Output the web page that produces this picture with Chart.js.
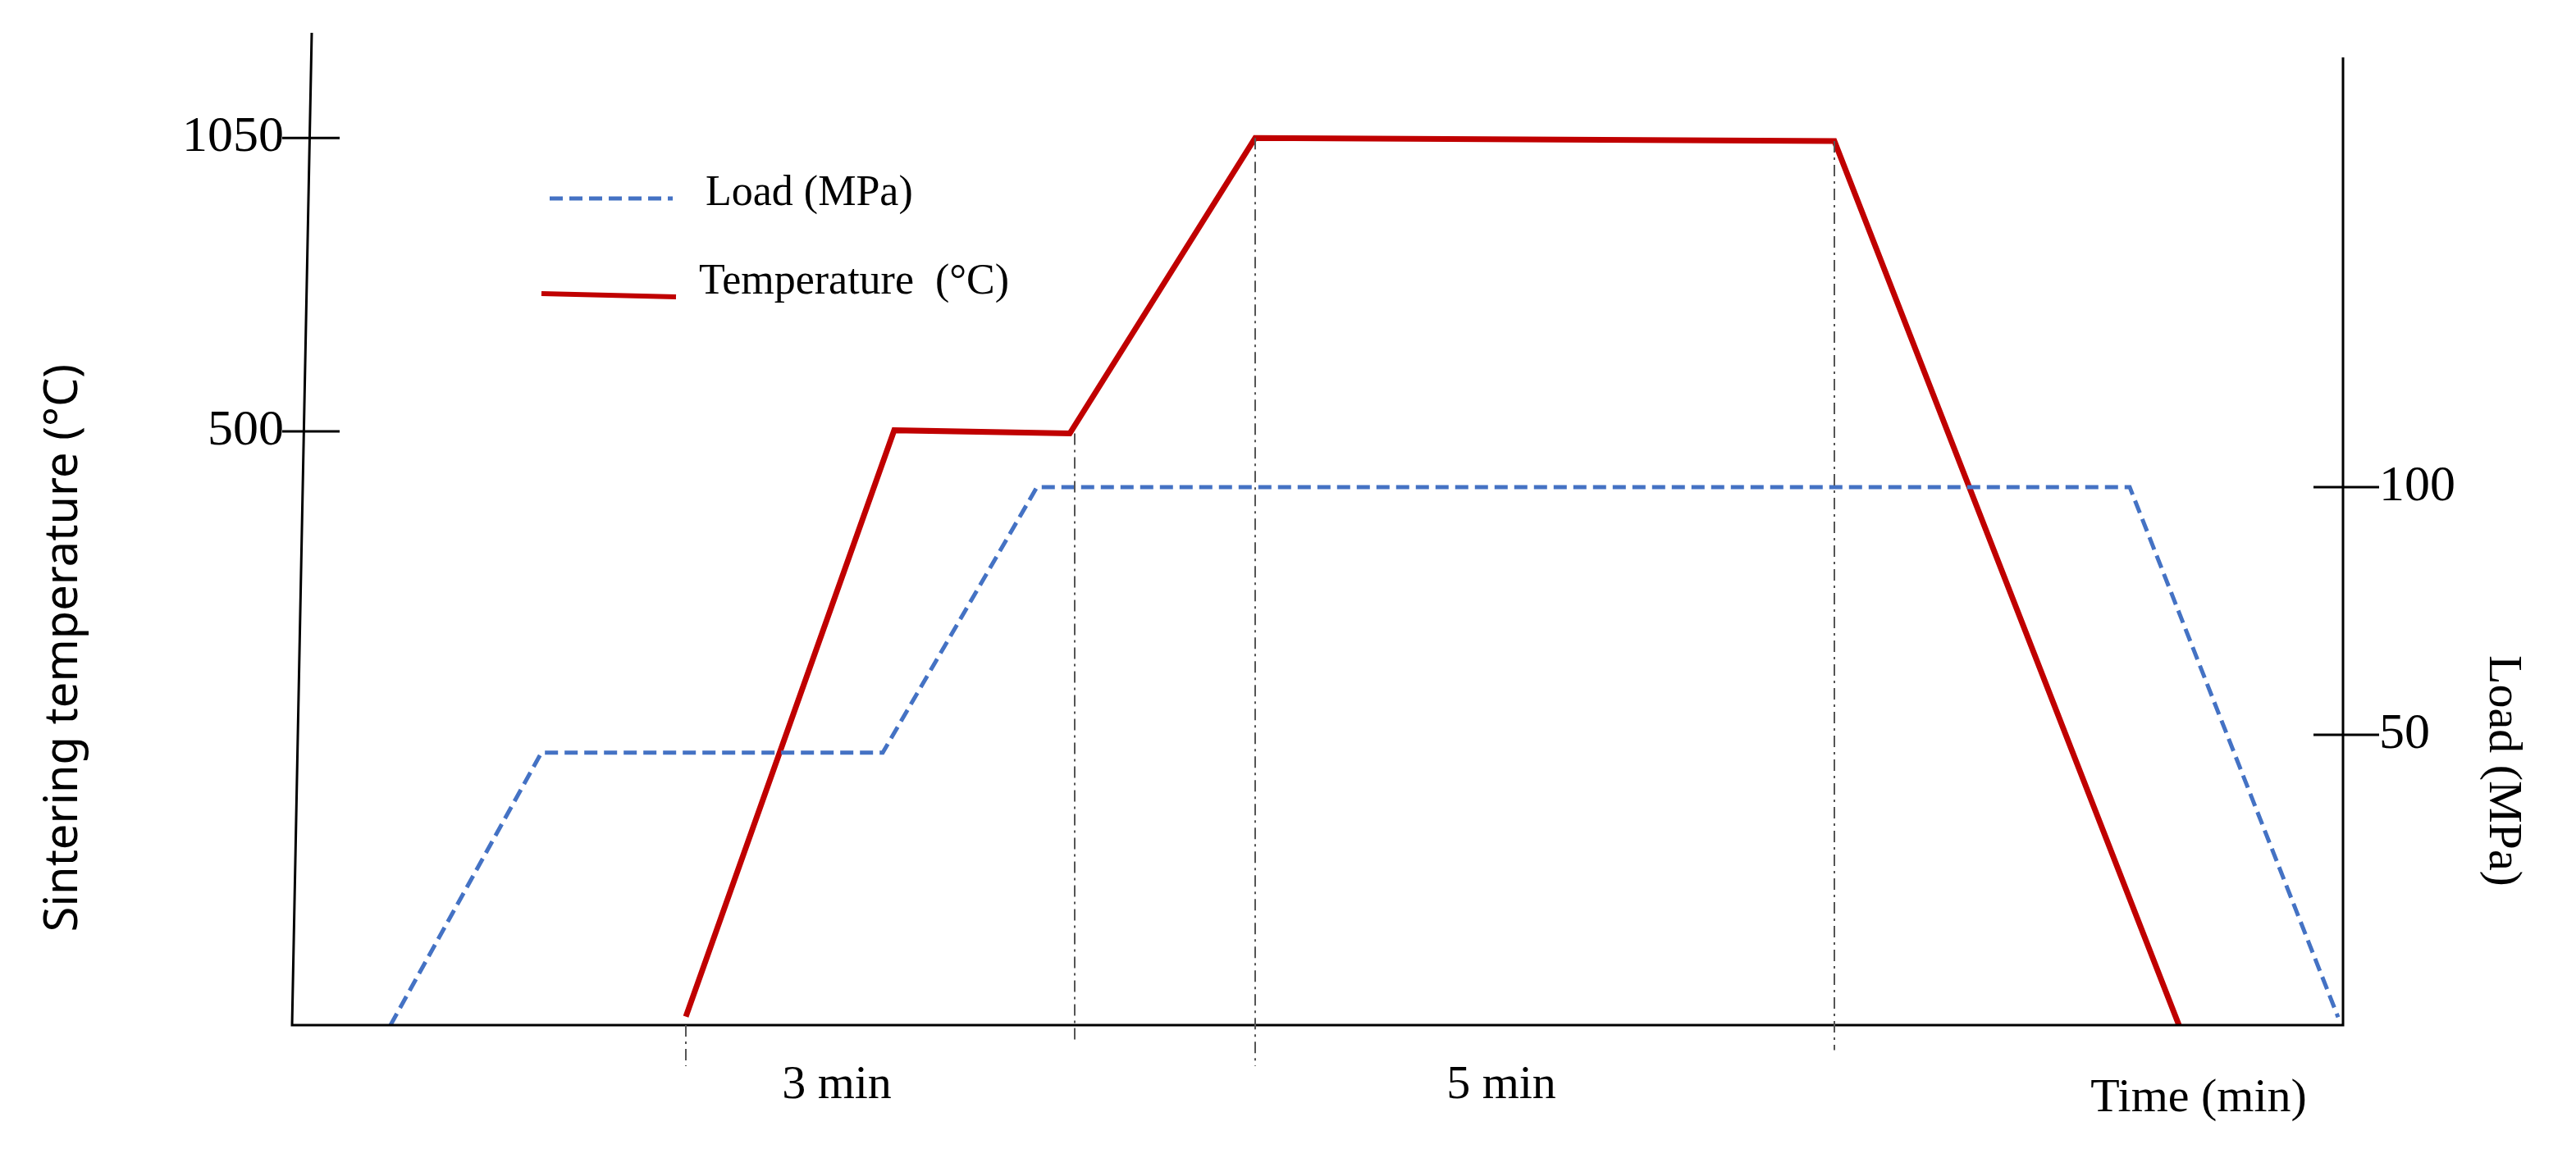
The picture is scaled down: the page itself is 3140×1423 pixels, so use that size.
<!DOCTYPE html>
<html>
<head>
<meta charset="utf-8">
<title>Sintering profile</title>
<script src="https://cdn.jsdelivr.net/npm/chart.js@4.4.0/dist/chart.umd.min.js"></script>
<style>body{margin:0;background:#fff}</style>
</head>
<body>
<canvas id="myChart" width="3140" height="1423"></canvas>
<script>
// time positions are schematic (arbitrary units along the axis)
const loadTime = [238, 330, 538, 632, 1298, 1425];
const loadValues = [-8.6, 46.4, 46.4, 100, 100, -7];
const tempTime = [418, 545, 652, 765, 1118, 1328];
const tempValues = [-597, 502, 496, 1050, 1044, -613];
const tempTicks = [500, 1050];
const loadTicks = [50, 100];
const guideLines = [[418, -613, -690], [655, 496, -640], [765, 1050, -690], [1118, 1044, -660]];
const periodLabels = [[510, '3 min'], [915, '5 min']];

const serif = '"Liberation Serif", "DejaVu Serif", serif';

const drawAxes = {
  id: 'drawAxes',
  afterDatasetsDraw(chart) {
    const c = chart.ctx, x = chart.scales.x, yT = chart.scales.yT, yL = chart.scales.yL;
    const a = chart.chartArea;
    c.save();
    c.strokeStyle = '#000'; c.lineWidth = 3;
    c.beginPath();
    c.moveTo(380, 40); c.lineTo(a.left, a.bottom); c.lineTo(a.right, a.bottom); c.lineTo(a.right, 70);
    c.stroke();
    c.fillStyle = '#000';
    c.font = '62px ' + serif;
    c.textBaseline = 'middle';
    tempTicks.forEach(v => {
      const y = yT.getPixelForValue(v);
      c.beginPath(); c.moveTo(344, y); c.lineTo(414, y); c.stroke();
      c.textAlign = 'right'; c.fillText(String(v), 346, y);
    });
    loadTicks.forEach(v => {
      const y = yL.getPixelForValue(v);
      c.beginPath(); c.moveTo(a.right - 36, y); c.lineTo(a.right + 44, y); c.stroke();
      c.textAlign = 'left'; c.fillText(String(v), a.right + 44, y);
    });
    // guide lines
    c.strokeStyle = '#555'; c.lineWidth = 2; c.setLineDash([14, 6, 3, 6]);
    guideLines.forEach(g => {
      const px = x.getPixelForValue(g[0]);
      c.beginPath(); c.moveTo(px, yT.getPixelForValue(g[1])); c.lineTo(px, yT.getPixelForValue(g[2])); c.stroke();
    });
    c.setLineDash([]);
    c.textAlign = 'center';
    c.font = '58px ' + serif;
    periodLabels.forEach(p => c.fillText(p[1], x.getPixelForValue(p[0]), 1324));
    c.fillText('Time (min)', 2680, 1340);
    // axis titles
    c.save(); c.translate(78, 790); c.rotate(-Math.PI / 2);
    c.font = '56px "Noto Sans", sans-serif'; c.fillText('Sintering temperature (°C)', 0, 0); c.restore();
    c.save(); c.translate(3050, 940); c.rotate(Math.PI / 2);
    c.font = '58px ' + serif; c.fillText('Load (MPa)', 0, 0); c.restore();
    // legend
    c.lineWidth = 5; c.strokeStyle = '#4472C4'; c.setLineDash([16, 8]);
    c.beginPath(); c.moveTo(670, 242); c.lineTo(820, 242); c.stroke();
    c.setLineDash([]); c.strokeStyle = '#C00000'; c.lineWidth = 6;
    c.beginPath(); c.moveTo(660, 358); c.lineTo(824, 362); c.stroke();
    c.textAlign = 'left'; c.font = '52px ' + serif;
    c.fillText('Load (MPa)', 860, 236);
    c.fillText('Temperature  (°C)', 852, 344);
    c.restore();
  }
};

new Chart(document.getElementById('myChart').getContext('2d'), {
  type: 'line',
  data: {
    datasets: [{
      label: 'Load (MPa)',
      data: loadTime.map((t, i) => ({x: t, y: loadValues[i]})),
      yAxisID: 'yL', borderColor: '#4472C4', borderWidth: 5, borderDash: [16, 8],
      pointRadius: 0, tension: 0
    }, {
      label: 'Temperature (°C)',
      data: tempTime.map((t, i) => ({x: t, y: tempValues[i]})),
      yAxisID: 'yT', borderColor: '#C00000', borderWidth: 7,
      pointRadius: 0, tension: 0
    }]
  },
  options: {
    responsive: false, animation: false, devicePixelRatio: 1,
    layout: {padding: {left: 356, right: 284, top: 40, bottom: 173}},
    plugins: {legend: {display: false}, tooltip: {enabled: false}},
    scales: {
      x: {type: 'linear', min: 178, max: 1428, display: false},
      yT: {min: -613, max: 1247, display: false},
      yL: {min: -8.6, max: 191.7, display: false}
    }
  },
  plugins: [drawAxes]
});
</script>
</body>
</html>
